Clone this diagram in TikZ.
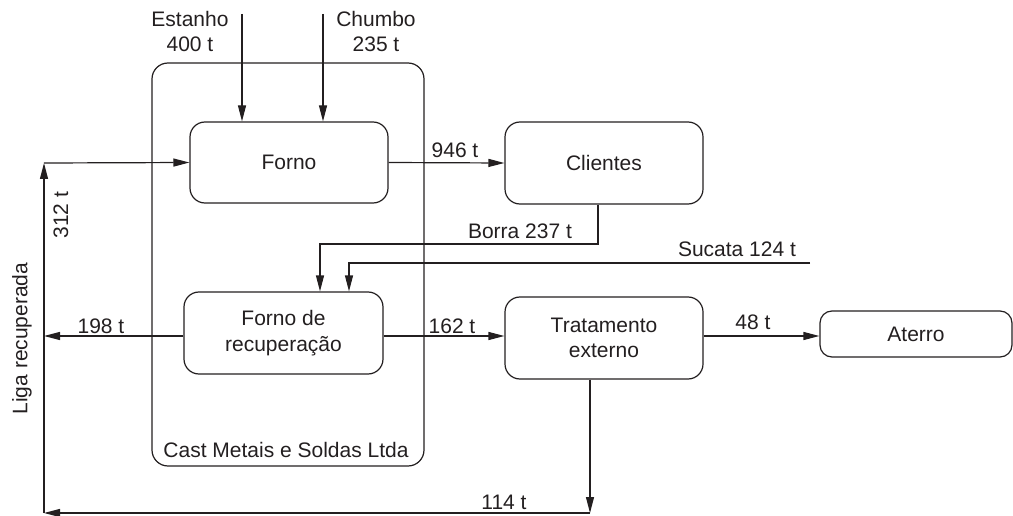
\documentclass[tikz,border=0pt]{standalone}
\usepackage{fontspec}
\setmainfont{Liberation Sans}
\usetikzlibrary{arrows.meta,calc}
\definecolor{ink}{RGB}{35,31,32}
\begin{document}
\begin{tikzpicture}[x=1pt,y=-1pt,
  every node/.style={text=ink,font=\fontsize{21}{25.5}\selectfont},
  conn/.style={draw=ink,line width=1.2pt},
  arr/.style={conn,-{Triangle[length=16pt,width=8pt]}},
  procbox/.style={draw=ink,line width=1.2pt,rounded corners=15pt,inner sep=0pt,align=center},
  lbl/.style={anchor=base,inner sep=0pt}]
\useasboundingbox (0,0) rectangle (1013,516);
% outer company box
\node[draw=ink,line width=1.2pt,rounded corners=16pt,minimum width=272pt,minimum height=403pt,inner sep=0pt] (cast) at (288,264.5) {};
\node[lbl] (castlbl) at (286,457) {Cast Metais e Soldas Ltda};
% process boxes
\node[procbox,minimum width=198pt,minimum height=81pt] (forno) at (289,162.5) {Forno};
\node[procbox,minimum width=198pt,minimum height=82pt] (clientes) at (604,163) {Clientes};
\node[procbox,minimum width=199pt,minimum height=82pt] (rec) at (283.5,333) {Forno de\\recupera\c{c}\~ao};
\node[procbox,minimum width=198pt,minimum height=82pt] (trat) at (604,338) {Tratamento\\externo};
\node[procbox,rounded corners=12pt,minimum width=192pt,minimum height=46pt] (aterro) at (916,334) {Aterro};
% inputs from top
\node[align=center,inner sep=0pt] (estanho) at (190,31.5) {Estanho\\400 t};
\node[align=center,inner sep=0pt] (chumbo) at (376,31.5) {Chumbo\\235 t};
\coordinate (etop) at (242,14);
\coordinate (ctop) at (323,14);
\draw[arr] (etop) -- (etop |- forno.north);
\draw[arr] (ctop) -- (ctop |- forno.north);
% recycle loop coordinates
\coordinate (lt) at (44,163);
\coordinate (lb) at (44,513);
\coordinate (tb) at (590,513);
\coordinate (ly) at (0,336);
\draw[arr] (lt) -- (forno.west);
\draw[arr] (forno.east) -- (clientes.west);
\node[lbl] (l946) at (455,158) {946 t};
% Borra
\coordinate (bx) at (598,244);
\coordinate (bl) at (320,244);
\draw[arr] (clientes.south -| bx) -- (bx) -- (bl) -- (bl |- rec.north);
\node[lbl] (lborra) at (520,239) {Borra 237 t};
% Sucata
\coordinate (sr) at (810,263);
\coordinate (sl) at (349,263);
\draw[arr] (sr) -- (sl) -- (sl |- rec.north);
\node[lbl] (lsucata) at (737,257) {Sucata 124 t};
% outputs of recovery furnace
\draw[arr] (rec.west |- ly) -- (lt |- ly);
\node[lbl] (l198) at (101,333) {198 t};
\draw[arr] (rec.east |- ly) -- (trat.west |- ly);
\node[lbl] (l162) at (452,333) {162 t};
\draw[arr] (trat.east |- ly) -- (aterro.west |- ly);
\node[lbl] (l48) at (753,329) {48 t};
% return to furnace
\draw[arr] (trat.south -| tb) -- (tb);
\draw[arr] (tb) -- (lb);
\draw[arr] (lb) -- (lt);
\node[lbl] (l114) at (504,509) {114 t};
\node[rotate=90,inner sep=0pt] (l312) at (61,215) {312 t};
\node[rotate=90,inner sep=0pt] (liga) at (22,338.5) {Liga recuperada};
\end{tikzpicture}
\end{document}
